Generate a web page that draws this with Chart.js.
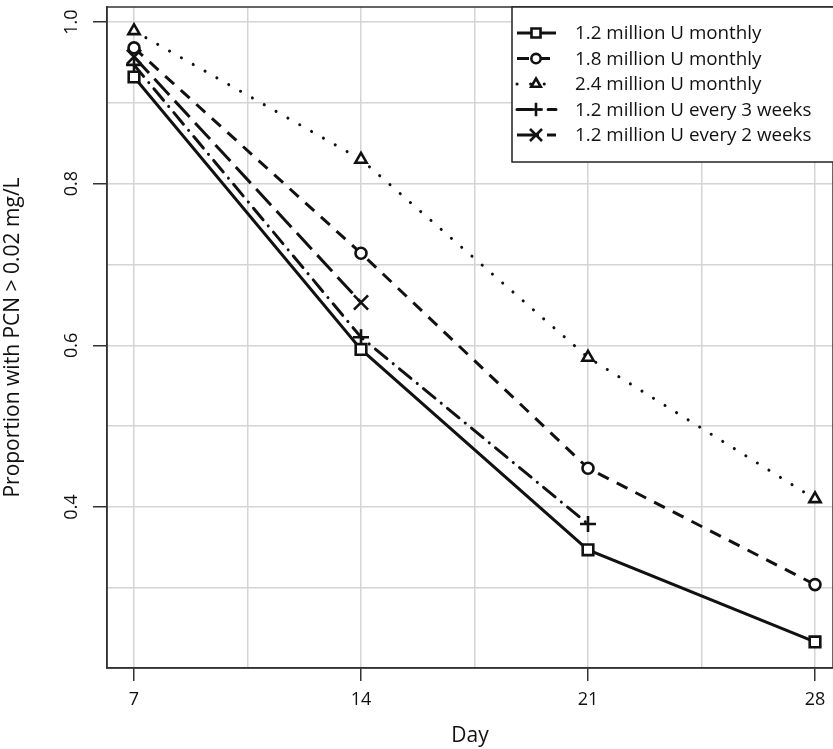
<!DOCTYPE html>
<html>
<head>
<meta charset="utf-8">
<script src="https://cdn.jsdelivr.net/npm/chart.js@4/dist/chart.umd.min.js"></script>
<style>
  body { margin: 0; background: #ffffff; }
</style>
</head>
<body>
<canvas id="myLineGraph" width="833" height="749"></canvas>
<script>
// data
var days = [7, 14, 21, 28];
var xTicks = [7, 10.5, 14, 17.5, 21, 24.5, 28];
var xLabels = [7, 14, 21, 28];
var yTicks = [0.3, 0.4, 0.5, 0.6, 0.7, 0.8, 0.9, 1.0];
var yLabels = [0.4, 0.6, 0.8, 1.0];

var names = [
  "1.2 million U monthly",
  "1.8 million U monthly",
  "2.4 million U monthly",
  "1.2 million U every 3 weeks",
  "1.2 million U every 2 weeks"
];
var monthly12 = [0.932, 0.595, 0.347, 0.233];
var monthly18 = [0.968, 0.714, 0.448, 0.304];
var monthly24 = [0.989, 0.830, 0.585, 0.410];
var every3w = [0.947, 0.610, 0.379, null];
var every2w = [0.957, 0.653, null, null];

var FONT = '"Open Sans", "DejaVu Sans", sans-serif';
var INK = "#111111";

function toPoints(vals) {
  return days.map(function (d, i) {
    return { x: d, y: vals[i] };
  }).filter(function (p) { return p.y !== null; });
}

function line(label, vals, dash, cap, style, radius) {
  return {
    label: label,
    data: toPoints(vals),
    borderColor: INK,
    borderWidth: 3,
    borderDash: dash,
    borderCapStyle: cap,
    pointStyle: style,
    pointRadius: radius,
    pointBorderWidth: 2.6,
    pointBorderColor: INK,
    pointBackgroundColor: "#ffffff",
    tension: 0
  };
}

// pin the plot area where the original has it
var pinArea = {
  id: "pinArea",
  afterLayout: function (chart) {
    var L = 107, T = 7, R = 833, B = 668;
    var a = chart.chartArea;
    a.left = L; a.top = T; a.right = R; a.bottom = B;
    a.width = R - L; a.height = B - T;
    var x = chart.scales.x;
    x.left = L; x.right = R; x.width = R - L;
    x.top = B; x.bottom = chart.height; x.height = chart.height - B;
    x.configure();
    var y = chart.scales.y;
    y.top = T; y.bottom = B; y.height = B - T;
    y.left = 0; y.right = L; y.width = L;
    y.configure();
  }
};

// legend in a box, top right, like the original
var boxLegend = {
  id: "boxLegend",
  afterDraw: function (chart) {
    var ctx = chart.ctx;
    ctx.save();
    ctx.fillStyle = "#ffffff";
    ctx.fillRect(512, 7, 340, 155);
    ctx.strokeStyle = "#222222";
    ctx.lineWidth = 1.5;
    ctx.strokeRect(512, 7, 340, 155);
    chart.data.datasets.forEach(function (ds, i) {
      var y = 33 + i * 25.5;
      ctx.strokeStyle = INK;
      ctx.setLineDash(ds.borderDash);
      ctx.lineCap = ds.borderCapStyle;
      ctx.lineWidth = ds.borderWidth;
      ctx.beginPath();
      ctx.moveTo(517, y);
      ctx.lineTo(556, y);
      ctx.stroke();
      ctx.setLineDash([]);
      ctx.lineCap = "butt";
      ctx.lineWidth = ds.pointBorderWidth;
      ctx.fillStyle = "#ffffff";
      Chart.helpers.drawPoint(ctx, {
        pointStyle: ds.pointStyle,
        radius: ds.pointRadius * 0.85,
        rotation: 0,
        borderWidth: ds.pointBorderWidth
      }, 536, y);
      ctx.fillStyle = INK;
      ctx.font = "18.8px " + FONT;
      ctx.textBaseline = "middle";
      ctx.textAlign = "left";
      ctx.fillText(ds.label, 575, y + 1);
    });
    ctx.restore();
  }
};

// box round the plot area
var plotBox = {
  id: "plotBox",
  beforeDatasetsDraw: function (chart) {
    var a = chart.chartArea;
    var ctx = chart.ctx;
    ctx.save();
    ctx.strokeStyle = "#333333";
    ctx.lineWidth = 1.5;
    ctx.strokeRect(a.left, a.top, a.right - a.left, a.bottom - a.top);
    ctx.restore();
  }
};

var ctxLine = document.getElementById("myLineGraph").getContext("2d");

var myLineGraph = new Chart(ctxLine, {
  type: "line",
  data: {
    datasets: [
      line(names[0], monthly12, [], "butt", "rect", 7.5),
      line(names[1], monthly18, [12, 9], "butt", "circle", 5.5),
      line(names[2], monthly24, [0.1, 13.5], "round", "triangle", 6.5),
      line(names[3], every3w, [15, 8, 0.1, 8], "round", "cross", 8),
      line(names[4], every2w, [22, 8], "butt", "crossRot", 10)
    ]
  },
  options: {
    responsive: false,
    animation: false,
    layout: {
      padding: { top: 7, right: 0, left: 0, bottom: 0 }
    },
    plugins: {
      legend: { display: false },
      tooltip: { enabled: false }
    },
    scales: {
      x: {
        type: "linear",
        min: 6.167,
        max: 28.555,
        afterBuildTicks: function (scale) {
          scale.ticks = xTicks.map(function (v) { return { value: v }; });
        },
        afterFit: function (scale) {
          scale.height = 81;
        },
        grid: {
          color: "#d4d4d4",
          lineWidth: 1.5,
          tickLength: 13,
          tickColor: function (c) {
            return xLabels.indexOf(c.tick.value) >= 0 ? "#333333" : "rgba(0,0,0,0)";
          }
        },
        border: { color: "#333333", width: 1.5 },
        ticks: {
          autoSkip: false,
          maxRotation: 0,
          padding: 8,
          color: INK,
          font: { family: FONT, size: 18 },
          callback: function (v) {
            return xLabels.indexOf(v) >= 0 ? String(v) : "";
          }
        },
        title: {
          display: true,
          text: "Day",
          color: INK,
          font: { family: FONT, size: 21 },
          padding: { top: 0, bottom: 0 }
        }
      },
      y: {
        type: "linear",
        min: 0.2008,
        max: 1.0186,
        afterBuildTicks: function (scale) {
          scale.ticks = yTicks.map(function (v) { return { value: v }; });
        },
        afterFit: function (scale) {
          scale.width = 107;
        },
        grid: {
          color: "#d4d4d4",
          lineWidth: 1.5,
          tickLength: 14,
          tickColor: function (c) {
            var v = Math.round(c.tick.value * 10) / 10;
            return yLabels.indexOf(v) >= 0 ? "#333333" : "rgba(0,0,0,0)";
          }
        },
        border: { color: "#333333", width: 1.5 },
        ticks: {
          autoSkip: false,
          minRotation: 90,
          maxRotation: 90,
          crossAlign: "center",
          padding: 8,
          color: INK,
          font: { family: FONT, size: 18 },
          callback: function (v) {
            var r = Math.round(v * 10) / 10;
            return yLabels.indexOf(r) >= 0 ? r.toFixed(1) : "";
          }
        },
        title: {
          display: true,
          text: "Proportion with PCN > 0.02 mg/L",
          color: INK,
          font: { family: FONT, size: 21 },
          padding: { top: 0, bottom: 0 }
        }
      }
    }
  },
  plugins: [pinArea, plotBox, boxLegend]
});
</script>
</body>
</html>
